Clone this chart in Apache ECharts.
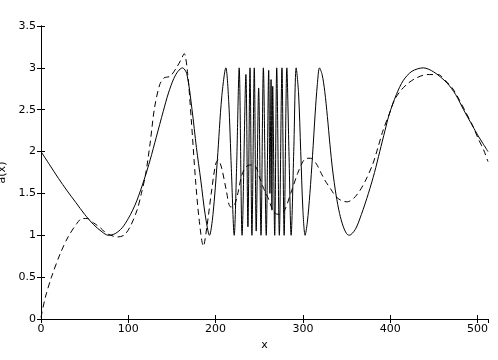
<!DOCTYPE html>
<html>
<head>
<meta charset="utf-8">
<script src="https://cdn.jsdelivr.net/npm/echarts@6/dist/echarts.min.js"></script>
<style>
html, body { margin: 0; padding: 0; background: #fff; }
#myChart { width: 498px; height: 360px; }
</style>
</head>
<body>
<div id="myChart"></div>
<script>
// a(x), the solid curve: [x, a]
var solidData = [
  [0, 2.0], [10, 1.84], [20, 1.68], [30, 1.53], [40, 1.39], [50, 1.25], [60, 1.13], [70, 1.04],
  [77, 1.0], [85, 1.02], [93, 1.09], [100, 1.2], [105, 1.3], [110, 1.42], [118, 1.66],
  [125, 1.9], [132, 2.17], [140, 2.48], [146, 2.7], [152, 2.87], [157, 2.96], [162, 3.0],
  [167, 2.93], [173, 2.5], [178, 2.05], [183, 1.66], [188, 1.25], [193, 1.0], [197, 1.25],
  [202, 1.9], [207, 2.65], [211.7, 3.0], [215, 2.6], [218, 1.8], [221.3, 1.0], [224, 1.8],
  [227, 3.0], [230.3, 1.0], [234.7, 2.92], [237, 1.1], [239.4, 3.0], [241.6, 1.0], [244.3, 3.0],
  [246.5, 1.05], [249.3, 2.76], [252, 1.0], [254.7, 3.0], [258, 1.0], [260.8, 2.97],
  [262.2, 1.5], [263.5, 2.86], [264.5, 1.3], [265.4, 2.78], [267.7, 1.0], [270, 3.0], [273, 1.0],
  [276, 3.0], [278.5, 1.0], [281.6, 3.0], [284, 2.0], [286.5, 1.0], [289.5, 2.0], [292.3, 3.0],
  [295, 2.7], [297.5, 2.0], [300, 1.3], [302.5, 1.0], [305, 1.15], [308, 1.5], [311, 1.95],
  [314, 2.45], [316.5, 2.8], [319, 3.0], [322, 2.92], [325, 2.72], [328, 2.42], [331, 2.08],
  [334, 1.78], [338, 1.48], [342, 1.26], [346, 1.11], [350, 1.02], [353, 1.0], [360, 1.07],
  [367, 1.25], [375, 1.5], [382, 1.75], [388, 2.0], [394, 2.25], [399, 2.45], [407, 2.68],
  [415, 2.85], [425, 2.96], [438, 3.0], [450, 2.95], [465, 2.82], [475, 2.68], [484, 2.5],
  [492, 2.35], [500, 2.2], [506, 2.1], [512, 2.0]
];

// approximation, the dashed curve: [x, a]
var dashedData = [
  [0, 0.02], [5, 0.26], [12, 0.5], [22, 0.78], [31, 0.98], [41, 1.14], [47, 1.2], [53, 1.2],
  [60, 1.15], [68, 1.09], [74, 1.03], [80, 1.0], [87, 0.98], [95, 1.0], [102, 1.1], [110, 1.3],
  [115, 1.5], [120, 1.74], [125, 2.1], [130, 2.52], [136, 2.8], [141, 2.88], [148, 2.9],
  [155, 3.0], [160, 3.09], [164, 3.17], [168, 2.93], [172, 2.4], [177, 1.66], [181, 1.2],
  [186, 0.87], [190, 1.1], [195, 1.5], [200, 1.85], [203, 1.9], [207, 1.8], [212, 1.55],
  [217, 1.34], [221, 1.35], [225, 1.48], [230, 1.72], [235, 1.82], [240, 1.84], [246, 1.82],
  [250, 1.7], [255, 1.56], [260, 1.45], [267, 1.27], [273, 1.25], [279, 1.3], [286, 1.5],
  [294, 1.74], [300, 1.88], [304, 1.92], [309, 1.92], [315, 1.86], [321, 1.74], [325, 1.66],
  [332, 1.55], [338, 1.46], [345, 1.41], [351, 1.4], [358, 1.44], [365, 1.53], [372, 1.66],
  [380, 1.85], [386, 2.05], [392, 2.26], [399, 2.45], [405, 2.62], [413, 2.74], [421, 2.82],
  [430, 2.88], [442, 2.92], [455, 2.92], [463, 2.85], [471, 2.76], [478, 2.64], [486, 2.48],
  [494, 2.32], [501, 2.15], [507, 2.02], [512, 1.88]
];

var xTicks = [0, 100, 200, 300, 400, 500];
var yTicks = ["0", "0.5", "1", "1.5", "2", "2.5", "3", "3.5"];

var myChart = echarts.init(document.getElementById("myChart"));
var font = "DejaVu Sans, sans-serif";
var axisLine = { show: true, lineStyle: { color: "#000", width: 1 } };
var tick = { show: true, inside: true, length: 4, lineStyle: { color: "#000" } };

var option = {
  animation: false,
  backgroundColor: "#fff",
  grid: { left: 41, right: 10, top: 26, bottom: 41, outerBoundsMode: "none" },
  xAxis: [
    {
      type: "value",
      min: 0,
      max: 512,
      interval: 100,
      name: "x",
      nameLocation: "middle",
      nameGap: 18,
      nameTextStyle: { color: "#000", fontSize: 11, fontFamily: font },
      axisLine: axisLine,
      axisTick: tick,
      splitLine: { show: false },
      axisLabel: {
        color: "#000", fontSize: 11, fontFamily: font, margin: 5,
        showMaxLabel: false,
        formatter: function (v) { return xTicks.indexOf(v) >= 0 ? String(v) : ""; }
      }
    },
    {
      type: "value",
      position: "top",
      min: 0,
      max: 512,
      interval: 100,
      axisLine: axisLine,
      axisTick: tick,
      splitLine: { show: false },
      axisLabel: { show: false }
    }
  ],
  yAxis: [
    {
      type: "value",
      min: 0,
      max: 3.5,
      interval: 0.5,
      name: "a(x)",
      nameLocation: "middle",
      nameGap: 29,
      nameTextStyle: { color: "#000", fontSize: 11, fontFamily: font },
      axisLine: axisLine,
      axisTick: tick,
      splitLine: { show: false },
      axisLabel: {
        color: "#000", fontSize: 11, fontFamily: font, margin: 5,
        formatter: function (v) { return yTicks[Math.round(v / 0.5)]; }
      }
    },
    {
      type: "value",
      position: "right",
      min: 0,
      max: 3.5,
      interval: 0.5,
      axisLine: axisLine,
      axisTick: tick,
      splitLine: { show: false },
      axisLabel: { show: false }
    }
  ],
  series: [
    {
      type: "line",
      data: dashedData,
      symbol: "none",
      smooth: 0.3,
      lineStyle: { color: "#000", width: 1, type: [6, 4] }
    },
    {
      type: "line",
      data: solidData,
      symbol: "none",
      smooth: 0.3,
      lineStyle: { color: "#000", width: 1 }
    }
  ]
};

myChart.setOption(option);
</script>
</body>
</html>
